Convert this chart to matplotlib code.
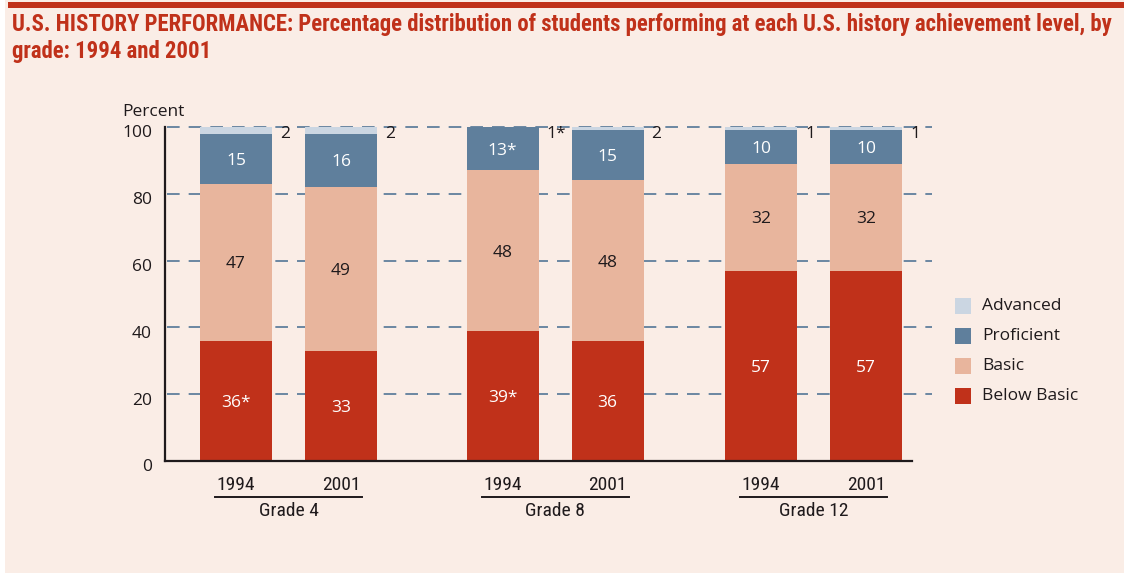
import matplotlib
matplotlib.use("Agg")
import matplotlib.pyplot as plt
from matplotlib.patches import Rectangle
from matplotlib import font_manager

# ---------------- data ----------------
grades = ["Grade 4", "Grade 8", "Grade 12"]
years = ["1994", "2001"]
levels = ["Below Basic", "Basic", "Proficient", "Advanced"]
below_basic = [36, 33, 39, 36, 57, 57]
basic = [47, 49, 48, 48, 32, 32]
proficient = [15, 16, 13, 15, 10, 10]
advanced = [2, 2, 1, 2, 1, 1]
below_basic_lbl = ["36*", "33", "39*", "36", "57", "57"]
basic_lbl = ["47", "49", "48", "48", "32", "32"]
proficient_lbl = ["15", "16", "13*", "15", "10", "10"]
advanced_lbl = ["2", "2", "1*", "2", "1", "1"]
yticks = [0, 20, 40, 60, 80, 100]

# ---------------- style ----------------
BG = "#FAEDE6"
RED = "#C0311A"
C_BB = "#C0311A"
C_BA = "#E8B59D"
C_PR = "#5F7F9C"
C_AD = "#CBD6E2"
DARK = "#1F1A1C"

avail = {f.name for f in font_manager.fontManager.ttflist}
def pick(*names):
    for n in names:
        if n in avail:
            return n
    return "DejaVu Sans"
NARROW = pick("Liberation Sans Narrow", "Roboto Condensed", "Open Sans Condensed", "Roboto", "Liberation Sans")
BODY = pick("Open Sans", "Lato", "DejaVu Sans")

W, H = 1124, 573
fig = plt.figure(figsize=(W / 100, H / 100), dpi=100)
fig.patch.set_facecolor(BG)

# white left strip and top red rule
fig.patches.append(Rectangle((0, 0), 5 / W, 1, transform=fig.transFigure,
                             facecolor="white", edgecolor="none", zorder=-5))
fig.patches.append(Rectangle((8 / W, 1 - 8 / H), 1 - 8 / W, 6 / H, transform=fig.transFigure,
                             facecolor=RED, edgecolor="none", zorder=-5))

# title (auto-fit to the reference width)
t1 = fig.text(12 / W, 1 - 31 / H,
              "U.S. HISTORY PERFORMANCE: Percentage distribution of students performing at each U.S. history achievement level, by",
              fontsize=15.5, color=RED, family=NARROW, fontweight="bold", va="baseline", ha="left")
t2 = fig.text(12 / W, 1 - 58 / H, "grade: 1994 and 2001",
              fontsize=15.5, color=RED, family=NARROW, fontweight="bold", va="baseline", ha="left")
r = fig.canvas.get_renderer()
wpx = t1.get_window_extent(renderer=r).width
fs = 15.5 * 1105 / wpx
t1.set_fontsize(fs)
t2.set_fontsize(fs)

# axes in pixel-like data coordinates horizontally
ax_left, ax_right = 165, 935
y0_px, y100_px = 461, 127
ax = fig.add_axes([ax_left / W, 1 - y0_px / H, (ax_right - ax_left) / W, (y0_px - y100_px) / H])
ax.set_facecolor("none")
ax.set_zorder(2)
ax.set_xlim(ax_left, ax_right)
ax.set_ylim(0, 100)

group_centers = [288.5, 555, 813.5]
half_gap = 52.5
centers = []
for g in range(len(grades)):
    for yi in range(len(years)):
        centers.append(group_centers[g] + (yi * 2 - 1) * half_gap)
bw = 72

# gridlines
for t in yticks[1:]:
    ax.plot([ax_left + 2, 932], [t, t], color=C_PR, lw=1.3, dashes=(7, 5), zorder=1,
            clip_on=False)

bottom = [0] * 6
for vals, col in [(below_basic, C_BB), (basic, C_BA), (proficient, C_PR), (advanced, C_AD)]:
    ax.bar(centers, vals, width=bw, bottom=bottom, color=col, edgecolor="none", zorder=3)
    bottom = [b + v for b, v in zip(bottom, vals)]

# in-bar labels
for i, x in enumerate(centers):
    b = 0
    for vals, lbls, tc in [(below_basic, below_basic_lbl, "white"),
                           (basic, basic_lbl, DARK),
                           (proficient, proficient_lbl, "white")]:
        ax.text(x, b + vals[i] / 2 - 0.6, lbls[i], ha="center", va="center", fontsize=12.5,
                color=tc, family=BODY, zorder=5)
        b += vals[i]
    ax.text(x + bw / 2 + 8, 98.0, advanced_lbl[i], ha="left", va="center", fontsize=12.5,
            color=DARK, family=BODY, zorder=5)

# spines
for s in ["top", "right"]:
    ax.spines[s].set_visible(False)
ax.spines["left"].set_bounds(0, 100)
ax.spines["bottom"].set_bounds(ax_left, 912)
for s in ["left", "bottom"]:
    ax.spines[s].set_color(DARK)
    ax.spines[s].set_linewidth(1.6)
    ax.spines[s].set_zorder(6)

ax.set_xticks([])
ax.set_yticks([])
for t in yticks:
    ax.text(ax_left - 13, t - 1.9, str(t), ha="right", va="center", fontsize=12.5,
            color=DARK, family=BODY)
ax.text(ax_left - 43, 104.6, "Percent", ha="left", va="center", fontsize=12.5, color=DARK,
        family=BODY)

# year and grade labels
for g in range(len(grades)):
    c1, c2 = centers[2 * g], centers[2 * g + 1]
    for yi, c in enumerate((c1, c2)):
        ax.text(c, -7.3, years[yi], ha="center", va="center", fontsize=14, color=DARK,
                family=NARROW, clip_on=False)
    ax.plot([c1 - 21, c2 + 21], [-10.9, -10.9], color=DARK, lw=1.4, clip_on=False)
    ax.text((c1 + c2) / 2, -15.0, grades[g], ha="center", va="center", fontsize=14,
            color=DARK, family=NARROW, clip_on=False)

# legend
leg_items = [("Advanced", C_AD), ("Proficient", C_PR), ("Basic", C_BA), ("Below Basic", C_BB)]
for k, (name, col) in enumerate(leg_items):
    yc = 306 + k * 30
    fig.patches.append(Rectangle((955 / W, 1 - (yc + 8) / H), 16 / W, 16 / H,
                                 transform=fig.transFigure, facecolor=col, edgecolor="none"))
    fig.text(982 / W, 1 - yc / H, name, ha="left", va="center", fontsize=12.5, color=DARK,
             family=BODY)

fig.savefig("out.png", dpi=100, facecolor=fig.get_facecolor())
